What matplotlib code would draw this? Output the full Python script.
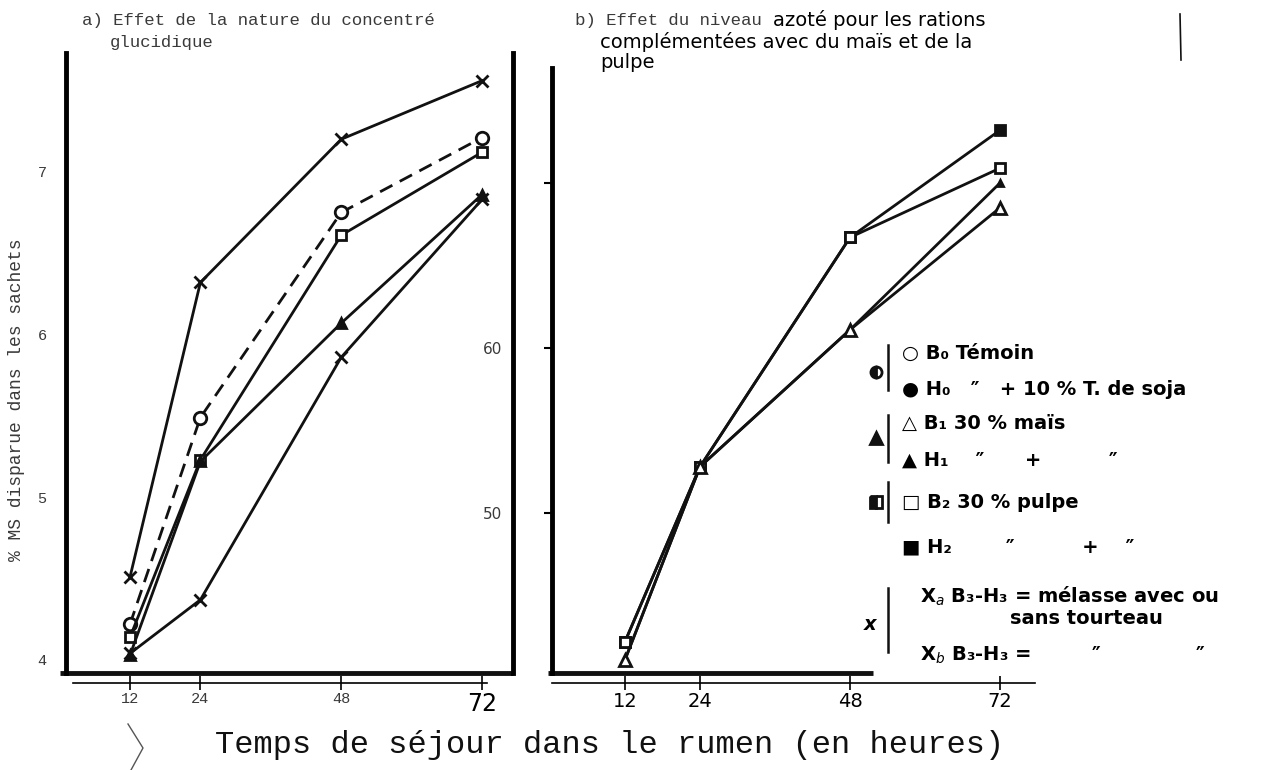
import matplotlib
matplotlib.use('Agg')
import matplotlib.pyplot as plt
from matplotlib.lines import Line2D

# Durée d'incubation (heures)
heures = [12, 24, 48, 72]

# a) Effet de la nature du concentré glucidique (% MS disparue)
a_xa = [45.1, 63.2, 72.0, 75.6]
a_b0 = [42.2, 54.9, 67.5, 72.1]
a_b2 = [41.4, 52.3, 66.1, 71.2]
a_b1 = [40.3, 52.2, 60.7, 68.6]
a_xb = [40.4, 43.7, 58.6, 68.3]

# b) Effet du niveau azoté (maïs et pulpe)
b_b2 = [42.2, 52.8, 66.7, 70.9]
b_h2 = [42.2, 52.8, 66.7, 73.2]
b_b1 = [41.1, 52.8, 61.1, 68.5]
b_h1 = [41.1, 52.8, 61.1, 70.0]

x_labels = ['12', '24', '48', '72']
y_ticks_a = [40, 50, 60, 70]
y_labels_a = ['4', '5', '6', '7']
y_ticks_b = [50, 60, 70]
y_labels_b = ['50', '60', '']

W, H = 1272, 770
K = '#111111'
GRIS = '#3a3a3a'
MONO = 'Liberation Mono'
MAIN = 'DejaVu Sans'


def fx(px):
    return px / W


def fy(py):
    return 1 - py / H


def boite(x0, y0, x1, y1):
    return [x0 / W, 1 - y1 / H, (x1 - x0) / W, (y1 - y0) / H]


def cadre(ax, bas_debut, bas_fin, bornes):
    """Axes dessinés à la main : gauche épais, ligne d'échelle fine en dessous."""
    ax.spines['top'].set_visible(False)
    ax.spines['left'].set_linewidth(3.5)
    ax.spines['bottom'].set_position(('outward', 7))
    ax.spines['bottom'].set_linewidth(1.2)
    ax.spines['bottom'].set_bounds(*bornes)
    ax.plot([bas_debut, bas_fin], [0, 0], transform=ax.transAxes, lw=3.5,
            color=K, clip_on=False, solid_capstyle='butt')
    ax.tick_params(axis='x', direction='inout', length=10, width=1.2, pad=2)
    ax.set_xticks(heures)


def trace(ax, y, style, marker, mfc, ms=8, **kw):
    ax.plot(heures, y, style, color=K, lw=2, marker=marker, mfc=mfc,
            mec=K, mew=2, ms=ms, clip_on=False, **kw)


fig = plt.figure(figsize=(12.72, 7.70), dpi=100)

# ---- panneau a ----
axa = fig.add_axes(boite(66, 53, 513, 673))
axa.set_xlim(1.09, 77.28)
axa.set_ylim(39.2, 77.3)
cadre(axa, -0.013, 1.0, (2.3, 72.9))
axa.spines['right'].set_linewidth(3.5)

trace(axa, a_xa, '-', 'x', K)
trace(axa, a_b0, '--', 'o', 'white', ms=9, dashes=(5, 3))
trace(axa, a_b2, '-', 's', 'white', ms=7)
trace(axa, a_b1, '-', '^', K, ms=7)
trace(axa, a_xb, '-', 'x', K)

axa.set_xticklabels(x_labels)
for i, lbl in enumerate(axa.get_xticklabels()):
    if i < 3:
        lbl.set_fontfamily(MONO)
        lbl.set_fontsize(11)
        lbl.set_color(GRIS)
    else:
        lbl.set_fontfamily(MAIN)
        lbl.set_fontsize(17)
axa.set_yticks(y_ticks_a, y_labels_a)
axa.tick_params(axis='y', length=0, pad=14, labelsize=11, labelcolor=GRIS)
for lbl in axa.get_yticklabels():
    lbl.set_fontfamily(MONO)

# ---- panneau b ----
axb = fig.add_axes(boite(552, 68, 1035, 673))
axb.set_xlim(0.32, 77.6)
axb.set_ylim(40.3, 76.97)
cadre(axb, -0.008, 0.665, (0.32, 77.6))
axb.spines['right'].set_visible(False)
axb.patch.set_alpha(0)

trace(axb, b_h2, '-', 's', K, ms=7)
trace(axb, b_b2, '-', 's', 'white', ms=7)
trace(axb, b_h1, '-', '^', K, ms=5)
trace(axb, b_b1, '-', '^', 'white', ms=8)

axb.set_xticklabels(x_labels, fontsize=14)
axb.set_yticks(y_ticks_b, y_labels_b)
axb.tick_params(axis='y', direction='out', length=6, width=1.5, pad=30,
                labelsize=11, labelcolor=GRIS)

# ---- titres et libellés ----
fig.text(fx(82), fy(20), "a) Effet de la nature du concentré", family=MONO,
         size=12.5, color=GRIS, va='center')
fig.text(fx(110), fy(42), "glucidique", family=MONO, size=12.5, color=GRIS,
         va='center')
fig.text(fx(575), fy(20), "b) Effet du niveau", family=MONO, size=12.5,
         color=GRIS, va='center')
fig.text(fx(773), fy(20), "azoté pour les rations", family=MAIN, size=14,
         va='center')
fig.text(fx(600), fy(42), "complémentées avec du maïs et de la", family=MAIN,
         size=14, va='center')
fig.text(fx(600), fy(63), "pulpe", family=MAIN, size=14, va='center')

fig.text(fx(17), fy(400), "% MS disparue dans les sachets", rotation=90,
         family=MONO, size=13, color=GRIS, ha='center', va='center')
fig.text(fx(610), fy(745), "Temps de séjour dans le rumen (en heures)",
         family=MONO, size=23, color=K, ha='center', va='center')

# ---- légende manuscrite ----
lignes = [
    (902, 353, "○ B₀ Témoin"),
    (902, 390, "● H₀   ″   + 10 % T. de soja"),
    (902, 423, "△ B₁ 30 % maïs"),
    (902, 460, "▲ H₁    ″      +          ″"),
    (902, 502, "□ B₂ 30 % pulpe"),
    (902, 547, "■ H₂        ″          +    ″"),
    (920, 596, r"X$_a$ B₃-H₃ = mélasse avec ou"),
    (1010, 618, "sans tourteau"),
    (920, 655, r"X$_b$ B₃-H₃ =         ″              ″"),
]
for x, y, txt in lignes:
    fig.text(fx(x), fy(y), txt, family=MAIN, size=14, weight='bold',
             va='center')

groupes = [(372, 345, 390, 'o', 'left'), (438, 415, 462, '^', 'full'),
           (502, 482, 522, 's', 'left')]
for y, y0, y1, m, fs in groupes:
    fig.add_artist(Line2D([fx(876)], [fy(y)], transform=fig.transFigure,
                          marker=m, ms=8, color=K, mew=2, fillstyle=fs,
                          mfc=K, mfcalt='white'))
    fig.add_artist(Line2D([fx(888), fx(888)], [fy(y0), fy(y1)],
                          transform=fig.transFigure, color=K, lw=1.8))
fig.text(fx(870), fy(625), "x", family=MAIN, size=14, weight='bold',
         style='italic', ha='center', va='center')
fig.add_artist(Line2D([fx(888), fx(888)], [fy(588), fy(652)],
                      transform=fig.transFigure, color=K, lw=1.8))

# traits parasites du scan
fig.add_artist(Line2D([fx(1180), fx(1181)], [fy(14), fy(60)],
                      transform=fig.transFigure, color=K, lw=1.2))
fig.add_artist(Line2D([fx(128), fx(143), fx(131)], [fy(724), fy(748), fy(770)],
                      transform=fig.transFigure, color='#555555', lw=1))

fig.savefig('out.png', dpi=100)
